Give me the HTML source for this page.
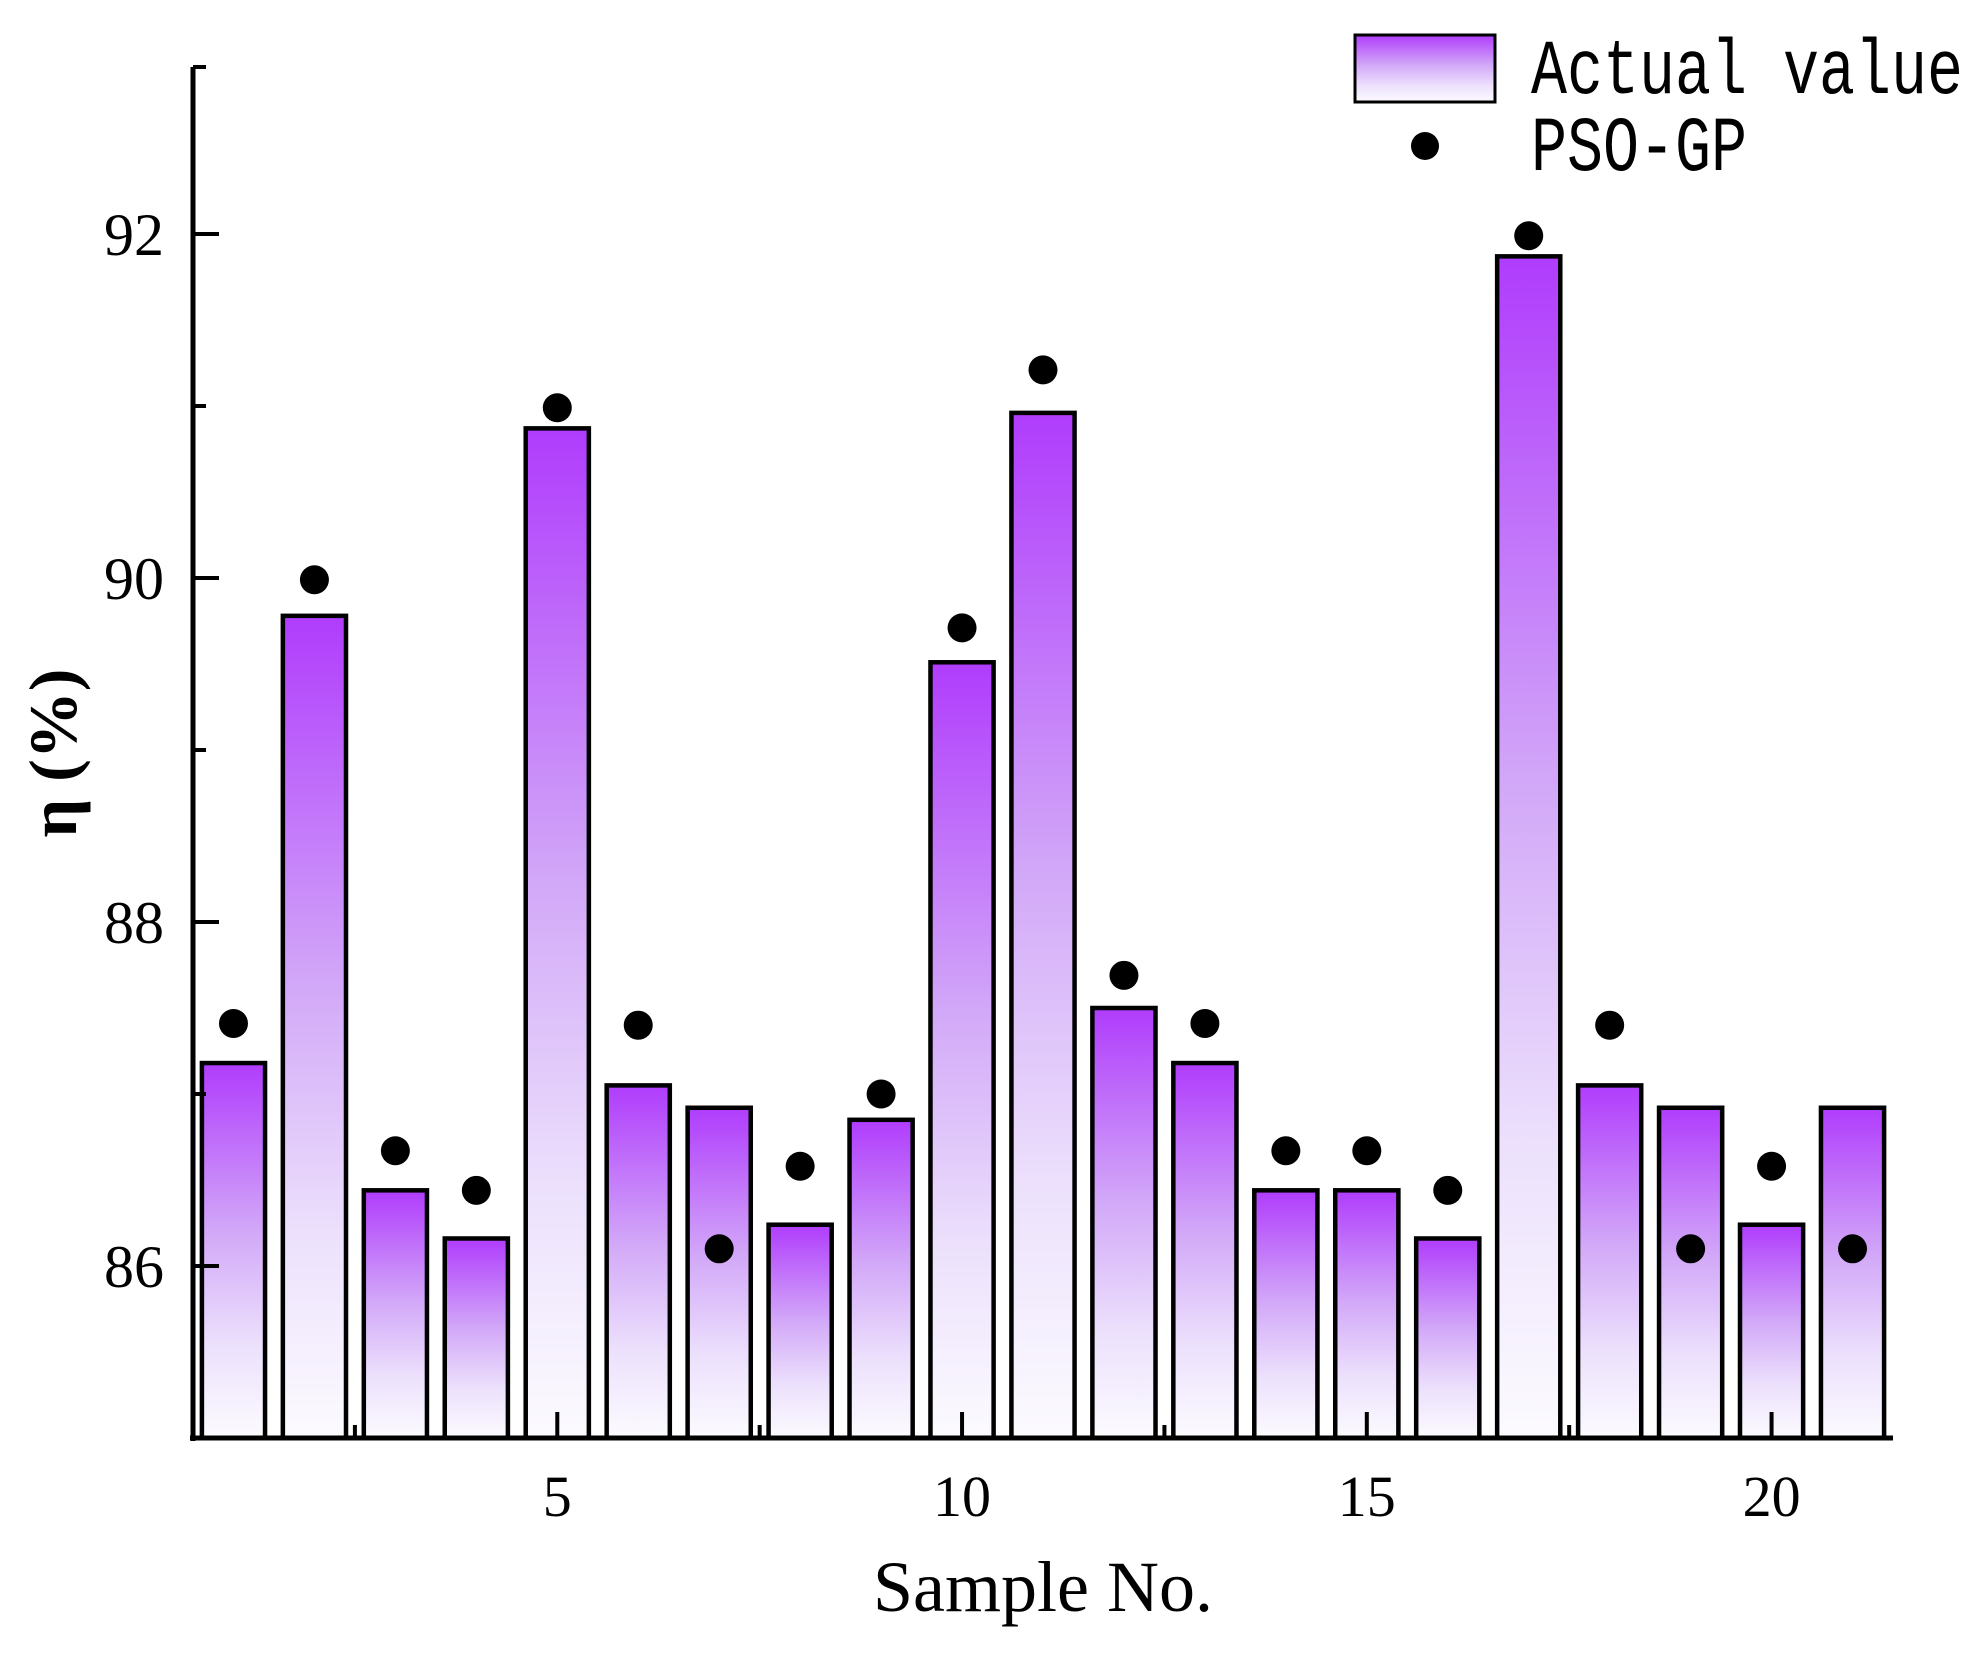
<!DOCTYPE html>
<html><head><meta charset="utf-8"><style>
html,body{margin:0;padding:0;background:#fff;}
svg{display:block;}
</style></head><body>
<svg id="chart" width="1986" height="1659" viewBox="0 0 1986 1659" xmlns="http://www.w3.org/2000/svg">
<defs>
<linearGradient id="barGrad" x1="0" y1="0" x2="0" y2="1">
<stop offset="0" stop-color="#b03cfc"/>
<stop offset="0.45" stop-color="#d2a8f8"/>
<stop offset="0.75" stop-color="#ece0fc"/>
<stop offset="1" stop-color="#fcfbff"/>
</linearGradient>
</defs>
<g id="bars"></g>
<g id="dots"></g>
<g id="axes"></g>
<text x="1043" y="1611" text-anchor="middle" font-family="Liberation Serif, serif" font-size="72">Sample No.</text>
<text transform="translate(76,753) rotate(-90)" text-anchor="middle" font-family="Liberation Serif, serif" font-weight="bold" font-size="68">η (%)</text>
<g>
<rect x="1355" y="35" width="140" height="67" fill="url(#barGrad)" stroke="#000" stroke-width="3"/>
<text transform="translate(1531,93) scale(1,1.3)" font-family="Liberation Mono, monospace" font-size="60">Actual value</text>
<circle cx="1425" cy="146" r="14" fill="#000"/>
<text transform="translate(1531,170) scale(1,1.3)" font-family="Liberation Mono, monospace" font-size="60">PSO-GP</text>
</g>
</svg>
<script>
const categories = [1,2,3,4,5,6,7,8,9,10,11,12,13,14,15,16,17,18,19,20,21];
const actualValues = [87.18,89.78,86.44,86.16,90.87,87.05,86.92,86.24,86.85,89.51,90.96,87.5,87.18,86.44,86.44,86.16,91.87,87.05,86.92,86.24,86.92];
const psoValues = [87.41,89.99,86.67,86.44,90.99,87.4,86.1,86.58,87.0,89.71,91.21,87.69,87.41,86.67,86.67,86.44,91.99,87.4,86.1,86.58,86.1];
const yTicks = [86,88,90,92];
const yMinorTicks = [85,87,89,91,93];
const xTicks = [5,10,15,20];
const xMinorTicks = [2.5,7.5,12.5,17.5];

const NS = 'http://www.w3.org/2000/svg';
const X0 = 193, X1 = 1893, XMIN = 0.5, XMAX = 21.5;
const Y0 = 1438, Y1 = 62, YMIN = 85, YMAX = 93;
function xs(v){ return X0 + (v - XMIN) / (XMAX - XMIN) * (X1 - X0); }
function ys(v){ return Y0 - (v - YMIN) / (YMAX - YMIN) * (Y0 - Y1); }
function mk(tag, attrs, parent){ const e = document.createElementNS(NS, tag); for (const k in attrs) e.setAttribute(k, attrs[k]); parent.appendChild(e); return e; }

const barsG = document.getElementById('bars');
const dotsG = document.getElementById('dots');
const axesG = document.getElementById('axes');
const unit = xs(2) - xs(1);
const bw = unit * 0.78;
categories.forEach((c, i) => {
  const x = xs(c) - bw / 2, y = ys(actualValues[i]);
  const r = mk('rect', {x: x, y: y, width: bw, height: Y0 - y, fill: 'url(#barGrad)', stroke: '#000', 'stroke-width': 4.5}, barsG);
  
  
});
categories.forEach((c, i) => {
  const d = mk('circle', {cx: xs(c), cy: ys(psoValues[i]), r: 14.5, fill: '#000'}, dotsG);
  
  
});
const ya = mk('line', {x1: X0, y1: Y1 + 5, x2: X0, y2: Y0 + 3, stroke: '#000', 'stroke-width': 5}, axesG);


const xa = mk('line', {x1: X0 - 3, y1: Y0, x2: X1, y2: Y0, stroke: '#000', 'stroke-width': 5}, axesG);


yTicks.forEach(t => {
  const l = mk('line', {x1: X0, y1: ys(t), x2: X0 + 26, y2: ys(t), stroke: '#000', 'stroke-width': 4}, axesG);
  
  
  const tx = mk('text', {x: 164, y: ys(t) + 21, 'text-anchor': 'end', 'font-family': 'Liberation Serif, serif', 'font-size': 60}, axesG);
  tx.textContent = t;
  
  
});
yMinorTicks.forEach(t => {
  const l = mk('line', {x1: X0, y1: ys(t) + (t === 93 ? 5 : 0), x2: X0 + 13, y2: ys(t) + (t === 93 ? 5 : 0), stroke: '#000', 'stroke-width': 4}, axesG);
  
  
});
xTicks.forEach(t => {
  const l = mk('line', {x1: xs(t), y1: Y0, x2: xs(t), y2: Y0 - 26, stroke: '#000', 'stroke-width': 4}, axesG);
  
  
  const tx = mk('text', {x: xs(t), y: 1516, 'text-anchor': 'middle', 'font-family': 'Liberation Serif, serif', 'font-size': 58}, axesG);
  tx.textContent = t;
  
  
});
xMinorTicks.forEach(t => {
  const l = mk('line', {x1: xs(t), y1: Y0, x2: xs(t), y2: Y0 - 13, stroke: '#000', 'stroke-width': 4}, axesG);
  
  
});
</script>
</body></html>
